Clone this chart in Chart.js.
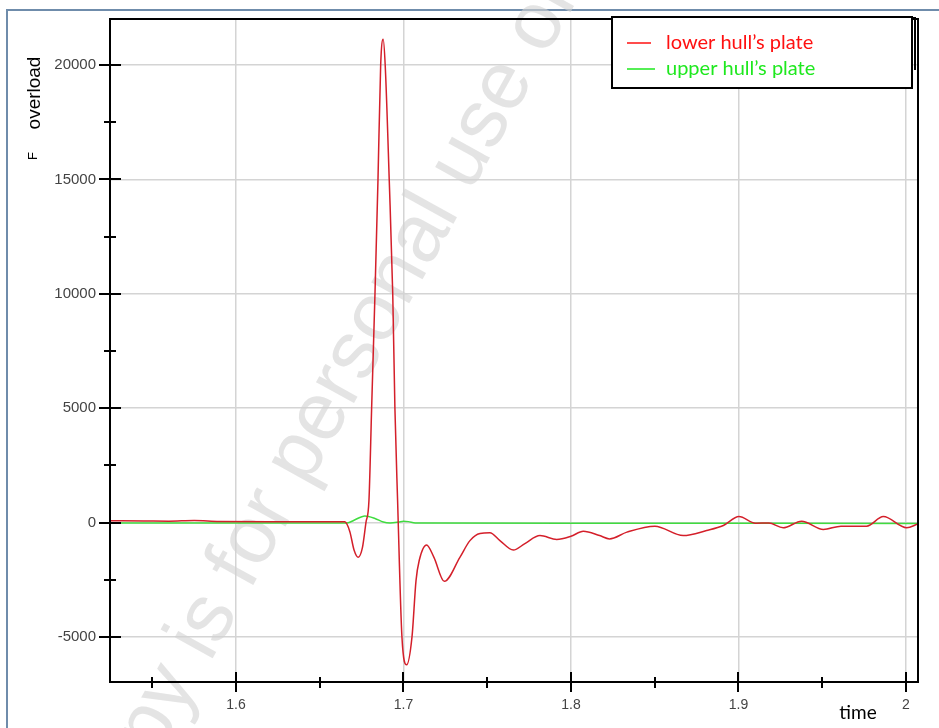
<!DOCTYPE html>
<html>
<head>
<meta charset="utf-8">
<script src="https://cdn.jsdelivr.net/npm/chart.js@4/dist/chart.umd.min.js"></script>
<style>
  body { margin: 0; background: #fff; }
  canvas { display: block; }
</style>
</head>
<body>
<canvas id="mychart" width="939" height="728"></canvas>
<script>
// data
var redTime = [1.525, 1.545, 1.56, 1.575, 1.59, 1.62, 1.64, 1.66, 1.665, 1.668, 1.6705, 1.673, 1.6755,
  1.6776, 1.6794, 1.681, 1.683, 1.6848, 1.6864, 1.6879, 1.6891, 1.6915, 1.6936, 1.6949, 1.6965,
  1.6991, 1.7019, 1.7051, 1.7075, 1.7094, 1.7138, 1.7182, 1.7244, 1.7337, 1.7397, 1.7457, 1.7516,
  1.7576, 1.7656, 1.7725, 1.7815, 1.7915, 1.8, 1.8074, 1.8171, 1.823, 1.8334, 1.8501, 1.867, 1.881,
  1.891, 1.9003, 1.9102, 1.9181, 1.9267, 1.9377, 1.9507, 1.9612, 1.9765, 1.9865, 2.0004, 2.0072];
var redLoad = [80, 70, 60, 90, 50, 40, 40, 40, 30, -400, -1200, -1520, -1100,
  0, 960, 5000, 10000, 15000, 20000, 21130, 20000, 15000, 10000, 5000, 960,
  -5000, -6220, -5000, -2540, -1660, -980, -1520, -2570, -1520, -790, -480, -450,
  -790, -1200, -920, -570, -740, -600, -380, -570, -715, -420, -160, -570, -350,
  -130, 260, -30, -20, -230, 60, -300, -160, -160, 260, -230, -60];

var greenTime = [1.525, 1.665, 1.667, 1.6705, 1.677, 1.683, 1.688, 1.692, 1.697, 1.7, 1.703, 1.707, 1.8, 2.0072];
var greenLoad = [-20, -20, -10, 100, 290, 180, 20, -20, 20, 60, 40, -20, -30, -40];

var xTicks = [1.55, 1.6, 1.65, 1.7, 1.75, 1.8, 1.85, 1.9, 1.95, 2.0];
var yTicks = [-5000, -2500, 0, 2500, 5000, 7500, 10000, 12500, 15000, 17500, 20000];

var seriesNames = ['lower hull\u2019s plate', 'upper hull\u2019s plate'];

var merah = '#d41f2a';
var hijau = '#3fdc3f';
var legendRed = '#ff1010';
var legendGreen = '#1ee81e';

function toPoints(xs, ys) {
  return xs.map(function (x, i) { return { x: x, y: ys[i] }; });
}

function isMajorX(v) { return Math.abs(v * 10 - Math.round(v * 10)) < 1e-6; }
function isMajorY(v) { return v % 5000 === 0; }

var decor = {
  id: 'decor',
  beforeDraw: function (chart) {
    var c = chart.ctx;
    c.save();
    c.fillStyle = '#fff';
    c.fillRect(0, 0, chart.width, chart.height);
    // outer frame of the figure
    c.strokeStyle = '#6f8cab';
    c.lineWidth = 2;
    c.strokeRect(7, 10, 960, 760);
    c.restore();
  },
  beforeDatasetsDraw: function (chart) {
    // watermark
    var c = chart.ctx;
    c.save();
    c.translate(347, 369);
    c.rotate(-61 * Math.PI / 180);
    c.font = '82px "Liberation Sans", Arial, sans-serif';
    c.fillStyle = 'rgba(210,210,210,0.6)';
    c.textAlign = 'center';
    c.textBaseline = 'middle';
    c.fillText('copy is for personal use only', 0, 0);
    c.restore();
  },
  afterDatasetsDraw: function (chart) {
    var c = chart.ctx;
    var a = chart.chartArea;
    var xs = chart.scales.x, ys = chart.scales.y;
    c.save();
    c.strokeStyle = '#000';
    c.lineWidth = 2;
    c.strokeRect(a.left, a.top, a.right - a.left, a.bottom - a.top);
    // tick marks crossing the axes
    c.beginPath();
    xTicks.forEach(function (v) {
      var px = Math.round(xs.getPixelForValue(v));
      var up = isMajorX(v) ? 10 : 5, dn = isMajorX(v) ? 10 : 6;
      c.moveTo(px, a.bottom - up);
      c.lineTo(px, a.bottom + dn);
    });
    yTicks.forEach(function (v) {
      var py = Math.round(ys.getPixelForValue(v));
      var len = isMajorY(v) ? 11 : 6;
      c.moveTo(a.left - len, py);
      c.lineTo(a.left + len, py);
    });
    c.stroke();
    c.restore();
  },
  afterDraw: function (chart) {
    var c = chart.ctx;
    c.save();
    // legend box
    c.strokeStyle = '#000';
    c.lineWidth = 2;
    c.beginPath();
    c.moveTo(912, 18);
    c.lineTo(915, 18);
    c.lineTo(915, 70);
    c.stroke();
    c.fillStyle = '#fff';
    c.fillRect(612, 17, 300, 71);
    c.strokeRect(612, 17, 300, 71);
    var cols = [legendRed, legendGreen];
    var ly = [43, 69];
    c.font = '20px Lato, "Open Sans", sans-serif';
    c.textBaseline = 'middle';
    chart.data.datasets.forEach(function (ds, i) {
      c.strokeStyle = cols[i];
      c.lineWidth = 1.5;
      c.beginPath();
      c.moveTo(627, ly[i]);
      c.lineTo(i === 0 ? 651 : 655, ly[i]);
      c.stroke();
      c.fillStyle = cols[i];
      c.fillText(ds.label, 666, ly[i]);
    });
    // axis titles
    c.fillStyle = '#000';
    c.font = '19px Lato, "Open Sans", sans-serif';
    c.textAlign = 'center';
    c.fillText('time', 858, 713);
    c.save();
    c.translate(35, 93);
    c.rotate(-Math.PI / 2);
    c.font = '19px "Liberation Sans", Arial, sans-serif';
    c.fillText('overload', 0, 0);
    c.restore();
    c.save();
    c.translate(33, 156);
    c.rotate(-Math.PI / 2);
    c.font = '13px "Liberation Sans", Arial, sans-serif';
    c.fillText('F', 0, 0);
    c.restore();
    c.restore();
  }
};

var ctx = document.getElementById('mychart').getContext('2d');
var myChart = new Chart(ctx, {
  type: 'line',
  data: {
    datasets: [{
      label: seriesNames[0],
      data: toPoints(redTime, redLoad),
      borderColor: merah,
      borderWidth: 1.5,
      pointRadius: 0,
      cubicInterpolationMode: 'monotone'
    }, {
      label: seriesNames[1],
      data: toPoints(greenTime, greenLoad),
      borderColor: hijau,
      borderWidth: 1.5,
      pointRadius: 0,
      cubicInterpolationMode: 'monotone'
    }]
  },
  options: {
    responsive: false,
    animation: false,
    layout: { padding: { left: 0, top: 19, right: 21, bottom: 0 } },
    plugins: { legend: { display: false }, tooltip: { enabled: false } },
    scales: {
      x: {
        type: 'linear',
        min: 1.5248,
        max: 2.0072,
        afterBuildTicks: function (s) { s.ticks = xTicks.map(function (v) { return { value: v }; }); },
        afterFit: function (s) { s.height = 46; s.paddingLeft = 0; s.paddingRight = 0; },
        border: { color: '#000', width: 2 },
        grid: {
          drawTicks: false,
          color: function (c) { return c.tick && isMajorX(c.tick.value) ? '#d4d4d4' : 'rgba(0,0,0,0)'; },
          lineWidth: 1.5
        },
        ticks: {
          padding: 15,
          color: '#444',
          font: { family: '"Liberation Sans", Arial, sans-serif', size: 14 },
          maxRotation: 0,
          autoSkip: false,
          callback: function (v) { return isMajorX(v) ? String(Math.round(v * 10) / 10) : ''; }
        }
      },
      y: {
        type: 'linear',
        min: -6970,
        max: 22010,
        afterBuildTicks: function (s) { s.ticks = yTicks.map(function (v) { return { value: v }; }); },
        afterFit: function (s) { s.width = 110; s.paddingTop = 0; s.paddingBottom = 0; },
        border: { color: '#000', width: 2 },
        grid: {
          drawTicks: false,
          color: function (c) { return c.tick && isMajorY(c.tick.value) ? '#d4d4d4' : 'rgba(0,0,0,0)'; },
          lineWidth: 1.5
        },
        ticks: {
          padding: 14,
          color: '#444',
          font: { family: '"Liberation Sans", Arial, sans-serif', size: 15 },
          autoSkip: false,
          callback: function (v) { return isMajorY(v) ? String(v) : ''; }
        }
      }
    }
  },
  plugins: [decor]
});
</script>
</body>
</html>
